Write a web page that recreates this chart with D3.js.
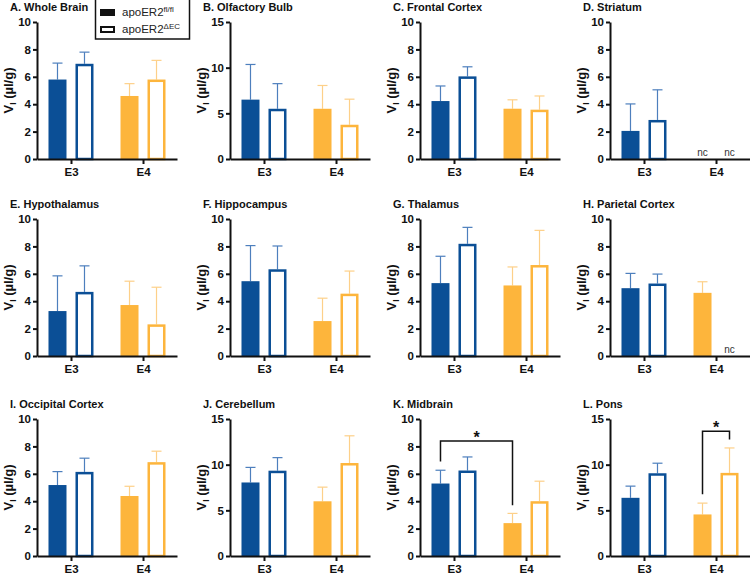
<!DOCTYPE html>
<html>
<head>
<meta charset="utf-8">
<script src="https://cdn.jsdelivr.net/npm/d3@7"></script>
<style>
  body { margin: 0; background: #fff; }
  text { font-family: "Liberation Sans", Arial, sans-serif; }
</style>
</head>
<body>
<script>
// panel titles and y maximum for each
var regions = ["A. Whole Brain", "B. Olfactory Bulb", "C. Frontal Cortex", "D. Striatum",
  "E. Hypothalamus", "F. Hippocampus", "G. Thalamus", "H. Parietal Cortex",
  "I. Occipital Cortex", "J. Cerebellum", "K. Midbrain", "L. Pons"];
var yMax = [10, 15, 10, 10, 10, 10, 10, 10, 10, 15, 10, 15];

var groups = ["E3", "E4"];
var series = ["fl/fl", "ΔEC"];

// means in order: E3 fl/fl, E3 ΔEC, E4 fl/fl, E4 ΔEC  (null = nc)
var means = [
  [5.8, 6.95, 4.6, 5.8],
  [6.5, 5.5, 5.5, 3.75],
  [4.23, 6.03, 3.67, 3.6],
  [2.05, 2.85, null, null],
  [3.28, 4.68, 3.72, 2.31],
  [5.46, 6.33, 2.55, 4.55],
  [5.32, 8.19, 5.15, 6.64],
  [4.95, 5.29, 4.61, null],
  [5.18, 6.14, 4.38, 6.85],
  [8.05, 9.34, 5.99, 10.18],
  [5.29, 6.24, 2.4, 4.0],
  [6.37, 9.06, 4.55, 9.1]
];
// upper error (same order)
var errs = [
  [1.2, 0.85, 0.9, 1.4],
  [3.85, 2.75, 2.55, 2.8],
  [1.1, 0.7, 0.65, 1.0],
  [1.97, 2.2, null, null],
  [2.57, 1.9, 1.74, 2.71],
  [2.6, 1.7, 1.67, 1.65],
  [1.96, 1.2, 1.35, 2.53],
  [1.08, 0.69, 0.81, null],
  [0.98, 1.0, 0.71, 0.8],
  [1.65, 1.43, 1.55, 2.98],
  [0.97, 0.99, 0.71, 1.46],
  [1.28, 1.1, 1.24, 2.73]
];

// significance brackets: panel, [group, series] ends, top value, leg end values
var sigs = [
  {panel: 10, from: ["E3", 0], to: ["E4", 0], top: 8.4, leg1: 6.9, leg2: 3.7},
  {panel: 11, from: ["E4", 0], to: ["E4", 1], top: 13.65, leg1: 6.75, leg2: 12.75}
];

var colors = {E3: "#0b4f96", E4: "#fdb53c"};
var errColors = {E3: "#4d7fbd", E4: "#fdd089"};

var svgWidth = 750, svgHeight = 575;
var colX = [37, 230, 420, 610];
var rowTop = [22, 219, 419];
var w = 140, h = 137;

var svg = d3.select("body").append("svg")
  .attr("width", svgWidth)
  .attr("height", svgHeight);

var x0 = d3.scalePoint().domain(groups).range([0, w]).padding(0.472);
var x1 = d3.scaleBand().domain([0, 1]).range([-22.5, 22.5]).paddingInner(1 / 3);
var bw = x1.bandwidth();

regions.forEach(function(title, i) {
  var g = svg.append("g")
    .attr("transform", `translate(${colX[i % 4]}, ${rowTop[Math.floor(i / 4)]})`);

  var y = d3.scaleLinear().domain([0, yMax[i]]).range([h, 0]);

  // bars
  groups.forEach(function(grp, gi) {
    series.forEach(function(s, si) {
      var v = means[i][gi * 2 + si];
      var bx = x0(grp) + x1(si);
      var cx = bx + bw / 2;
      if (v === null) {
        g.append("text")
          .attr("x", cx)
          .attr("y", h - 3)
          .attr("text-anchor", "middle")
          .style("font-size", "10px")
          .style("fill", "#333")
          .text("nc");
        return;
      }
      var e = errs[i][gi * 2 + si];
      // error bar (upward only)
      g.append("line")
        .attr("x1", cx).attr("x2", cx)
        .attr("y1", y(v)).attr("y2", y(v + e))
        .attr("stroke", errColors[grp]).attr("stroke-width", 1.2);
      g.append("line")
        .attr("x1", cx - 5).attr("x2", cx + 5)
        .attr("y1", y(v + e)).attr("y2", y(v + e))
        .attr("stroke", errColors[grp]).attr("stroke-width", 1.2);

      if (si === 0) {
        g.append("rect")
          .attr("x", bx).attr("y", y(v))
          .attr("width", bw).attr("height", h - y(v))
          .attr("fill", colors[grp]);
      } else {
        g.append("rect")
          .attr("x", bx + 1.25).attr("y", y(v) + 1.25)
          .attr("width", bw - 2.5).attr("height", h - y(v) - 1.25)
          .attr("fill", "#fff")
          .attr("stroke", colors[grp]).attr("stroke-width", 2.5);
      }
    });
  });

  // axes
  var yAxis = g.append("g")
    .call(d3.axisLeft(y)
      .tickValues(d3.range(0, yMax[i] + 1, yMax[i] === 15 ? 5 : 2))
      .tickSize(4).tickSizeOuter(0));
  var xAxis = g.append("g")
    .attr("transform", `translate(0, ${h})`)
    .call(d3.axisBottom(x0).tickSize(5).tickSizeOuter(0));

  [yAxis, xAxis].forEach(function(ax) {
    ax.selectAll("path, line").attr("stroke", "#111").attr("stroke-width", 2);
    ax.selectAll("text")
      .style("font-family", "Liberation Sans, Arial, sans-serif")
      .style("font-size", "11.5px")
      .style("font-weight", "bold")
      .style("fill", "#111");
  });
  yAxis.selectAll("text").attr("x", -6);
  xAxis.selectAll("text").attr("y", 9);

  // title
  g.append("text")
    .attr("x", -27)
    .attr("y", -11)
    .style("font-size", "11px")
    .style("font-weight", "bold")
    .style("fill", "#111")
    .text(title);

  // y label
  var yl = g.append("text")
    .attr("transform", `translate(-24, ${h / 2}) rotate(-90)`)
    .attr("text-anchor", "middle")
    .style("font-size", "13px")
    .style("font-weight", "bold")
    .style("fill", "#111");
  yl.append("tspan").text("V");
  yl.append("tspan").attr("dy", 3).style("font-size", "8.5px").text("I");
  yl.append("tspan").attr("dy", -3).text(" (µl/g)");

  // significance brackets
  sigs.filter(function(s) { return s.panel === i; }).forEach(function(s) {
    var xa = x0(s.from[0]) + x1(s.from[1]) + bw / 2;
    var xb = x0(s.to[0]) + x1(s.to[1]) + bw / 2;
    g.append("path")
      .attr("d", `M${xa},${y(s.leg1)}V${y(s.top)}H${xb}V${y(s.leg2)}`)
      .attr("fill", "none")
      .attr("stroke", "#111")
      .attr("stroke-width", 1.5);
    g.append("text")
      .attr("x", (xa + xb) / 2)
      .attr("y", y(s.top) + 2)
      .attr("text-anchor", "middle")
      .style("font-size", "16px")
      .style("font-weight", "bold")
      .style("fill", "#111")
      .text("*");
  });
});

// legend
var legend = svg.append("g");
legend.append("rect")
  .attr("x", 95.5).attr("y", -1)
  .attr("width", 94).attr("height", 40)
  .attr("fill", "#fff")
  .attr("stroke", "#111").attr("stroke-width", 1.5);

series.forEach(function(s, si) {
  var ly = 9 + si * 17;
  if (si === 0) {
    legend.append("rect")
      .attr("x", 100).attr("y", ly)
      .attr("width", 15).attr("height", 7)
      .attr("fill", "#111");
  } else {
    legend.append("rect")
      .attr("x", 101).attr("y", ly + 1)
      .attr("width", 13).attr("height", 5)
      .attr("fill", "#fff")
      .attr("stroke", "#111").attr("stroke-width", 2);
  }
  var t = legend.append("text")
    .attr("x", 122).attr("y", ly + 7)
    .style("font-size", "11.5px")
    .style("fill", "#222");
  t.append("tspan").text("apoER2");
  t.append("tspan").attr("dy", -4).style("font-size", "8px").text(s);
});
</script>
</body>
</html>
